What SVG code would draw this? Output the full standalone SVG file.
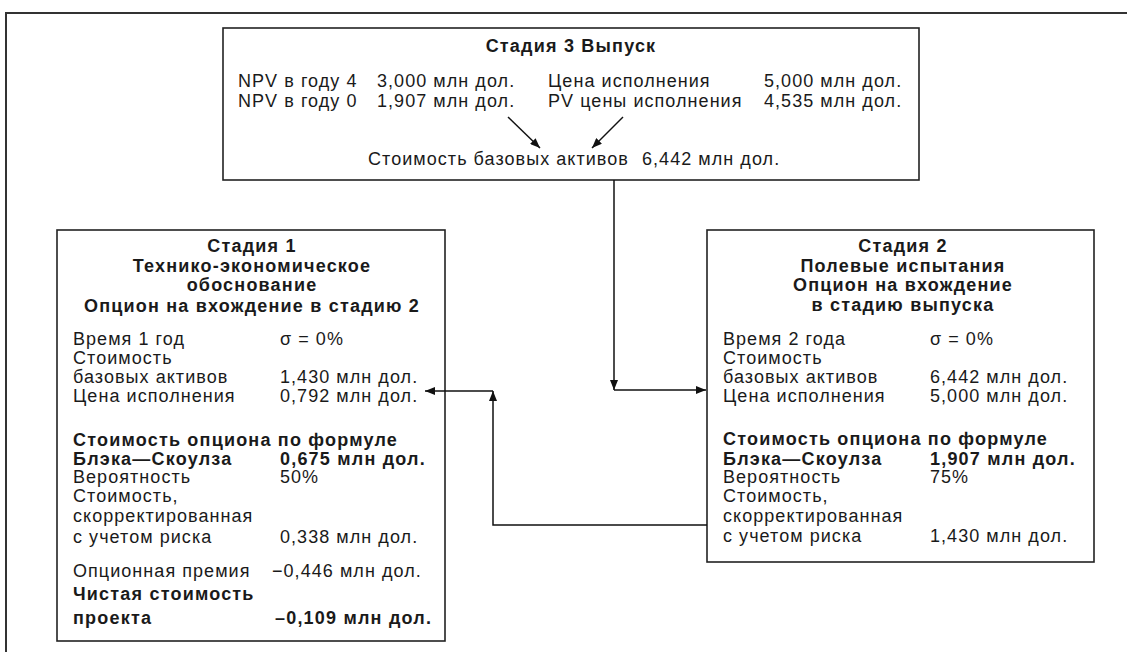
<svg xmlns="http://www.w3.org/2000/svg" width="1127" height="652" viewBox="0 0 1127 652">
<style>
text{font-family:"Liberation Sans",Arial,sans-serif;font-size:18px;fill:#1a1a1a;letter-spacing:1.05px}
.b{font-weight:bold;letter-spacing:1.2px}
.c{text-anchor:middle}
.box{fill:#fff;stroke:#222;stroke-width:1.6}
.ln{fill:none;stroke:#111;stroke-width:1.5}
</style>
<defs>
<marker id="ah" viewBox="0 0 10 8" refX="10" refY="4" markerWidth="10" markerHeight="8" markerUnits="userSpaceOnUse" orient="auto">
<path d="M0,0 L10,4 L0,8 Z" fill="#111"/>
</marker>
</defs>
<rect width="1127" height="652" fill="#fff"/>
<path d="M6,652 V13 H1127" fill="none" stroke="#333" stroke-width="2"/>

<g id="stage3">
<rect class="box" x="223" y="28" width="696" height="152"/>
<text class="b c" x="571" y="52">Стадия 3 Выпуск</text>
<text x="238" y="87">NPV в году 4</text>
<text x="377" y="87">3,000 млн дол.</text>
<text x="548" y="87">Цена исполнения</text>
<text x="764" y="87">5,000 млн дол.</text>
<text x="238" y="107">NPV в году 0</text>
<text x="377" y="107">1,907 млн дол.</text>
<text x="548" y="107">PV цены исполнения</text>
<text x="764" y="107">4,535 млн дол.</text>
<text x="368" y="165">Стоимость базовых активов</text>
<text x="642" y="165">6,442 млн дол.</text>
</g>

<g id="stage1">
<rect class="box" x="57" y="230" width="388" height="411"/>
<text class="b c" x="252" y="252">Стадия 1</text>
<text class="b c" x="252" y="272">Технико-экономическое</text>
<text class="b c" x="252" y="291">обоснование</text>
<text class="b c" x="252" y="312">Опцион на вхождение в стадию 2</text>
<text x="73" y="345">Время 1 год</text>
<text x="280" y="345">σ = 0%</text>
<text x="73" y="364">Стоимость</text>
<text x="73" y="383">базовых активов</text>
<text x="280" y="383">1,430 млн дол.</text>
<text x="73" y="402">Цена исполнения</text>
<text x="280" y="402">0,792 млн дол.</text>
<text class="b" x="73" y="446">Стоимость опциона по формуле</text>
<text class="b" x="73" y="465">Блэка—Скоулза</text>
<text class="b" x="280" y="465">0,675 млн дол.</text>
<text x="73" y="483">Вероятность</text>
<text x="280" y="483">50%</text>
<text x="73" y="502">Стоимость,</text>
<text x="73" y="522">скорректированная</text>
<text x="73" y="543">с учетом риска</text>
<text x="280" y="543">0,338 млн дол.</text>
<text x="73" y="577">Опционная премия</text>
<text x="272" y="577">−0,446 млн дол.</text>
<text class="b" x="73" y="600">Чистая стоимость</text>
<text class="b" x="73" y="624">проекта</text>
<text class="b" x="275" y="624">–0,109 млн дол.</text>
</g>

<g id="stage2">
<rect class="box" x="707" y="230" width="387" height="332"/>
<text class="b c" x="903" y="252">Стадия 2</text>
<text class="b c" x="903" y="272">Полевые испытания</text>
<text class="b c" x="903" y="291">Опцион на вхождение</text>
<text class="b c" x="903" y="311">в стадию выпуска</text>
<text x="723" y="345">Время 2 года</text>
<text x="930" y="345">σ = 0%</text>
<text x="723" y="364">Стоимость</text>
<text x="723" y="383">базовых активов</text>
<text x="930" y="383">6,442 млн дол.</text>
<text x="723" y="402">Цена исполнения</text>
<text x="930" y="402">5,000 млн дол.</text>
<text class="b" x="723" y="445">Стоимость опциона по формуле</text>
<text class="b" x="723" y="465">Блэка—Скоулза</text>
<text class="b" x="930" y="465">1,907 млн дол.</text>
<text x="723" y="483">Вероятность</text>
<text x="930" y="483">75%</text>
<text x="723" y="502">Стоимость,</text>
<text x="723" y="522">скорректированная</text>
<text x="723" y="542">с учетом риска</text>
<text x="930" y="542">1,430 млн дол.</text>
</g>

<g id="connectors">
<line class="ln" x1="508" y1="117" x2="540" y2="148" marker-end="url(#ah)"/>
<line class="ln" x1="623" y1="117" x2="592" y2="148" marker-end="url(#ah)"/>
<path class="ln" d="M614,180 V390" marker-end="url(#ah)"/>
<path class="ln" d="M614,390 H706" marker-end="url(#ah)"/>
<path class="ln" d="M707,525 H493 V391" marker-end="url(#ah)"/>
<path class="ln" d="M493,391 H425" marker-end="url(#ah)"/>
</g>
</svg>
